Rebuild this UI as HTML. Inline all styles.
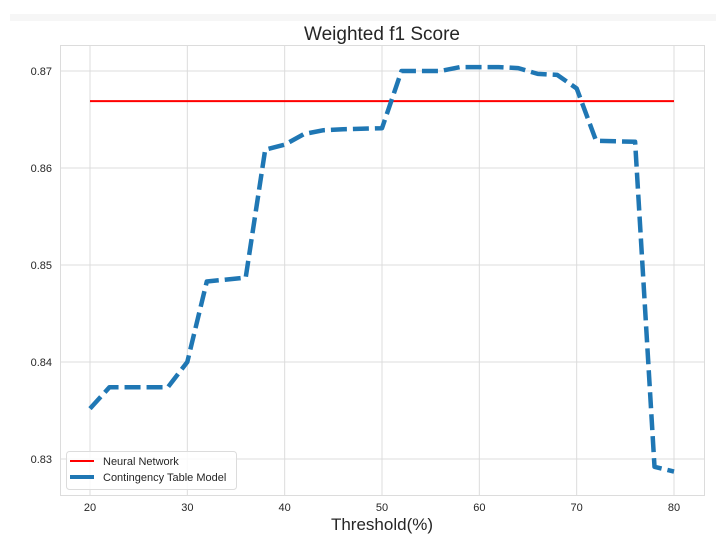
<!DOCTYPE html>
<html><head><meta charset="utf-8"><style>
body{margin:0;background:#fff;}
svg{display:block;font-family:"Liberation Sans",Arial,sans-serif;}
</style></head><body>
<svg id="chart" width="716" height="546">
<rect x="10" y="14" width="706" height="7" fill="#f6f6f6"/>
<text x="382" y="40" text-anchor="middle" font-size="19" fill="#262626">Weighted f1 Score</text>
<rect x="60.5" y="45.5" width="644" height="450" fill="#fff" stroke="#dcdcdc"/>
<g id="grid"></g><g id="series"></g>
<text x="382" y="530" text-anchor="middle" font-size="17" fill="#262626">Threshold(%)</text>
<g>
<rect x="66.5" y="451.5" width="170" height="38" rx="3" fill="#fff" fill-opacity="0.85" stroke="#dcdcdc"/>
<line x1="70" y1="461" x2="94" y2="461" stroke="#ff0000" stroke-width="2"/>
<text x="103" y="465" font-size="11" fill="#262626">Neural Network</text>
<line x1="70" y1="477" x2="94" y2="477" stroke="#1f77b4" stroke-width="4"/>
<text x="103" y="481" font-size="11" fill="#262626">Contingency Table Model</text>
</g>
</svg>
<script>
const xValues=[20,22,28,30,32,36,38,40,42,44,46,50,52,56,58,62,64,66,68,70,72,76,78,80];
const contingencyValues=[0.8352,0.8374,0.8374,0.8400,0.8483,0.8487,0.8619,0.8624,0.8635,0.8639,0.8640,0.8641,0.8700,0.8700,0.8704,0.8704,0.8703,0.8697,0.8696,0.8682,0.8628,0.8627,0.8292,0.8287];
const neuralNetworkValue=0.8669;
const xTicks=[20,30,40,50,60,70,80];
const yTicks=[0.83,0.84,0.85,0.86,0.87];
const yTickLabels=["0.83","0.84","0.85","0.86","0.87"];
const NS="http://www.w3.org/2000/svg";
function sx(v){return 90+(v-20)*(674-90)/60;}
function sy(v){return 71+(0.87-v)*9700;}
function mk(t,a,p){const e=document.createElementNS(NS,t);for(const k in a)e.setAttribute(k,a[k]);p.appendChild(e);return e;}
const grid=document.getElementById('grid');
xTicks.forEach(t=>{
 const l=mk('line',{x1:sx(t),x2:sx(t),y1:46,y2:495,stroke:'#dcdcdc','stroke-width':1},grid);
 
 
 const tx=mk('text',{x:sx(t),y:511,'text-anchor':'middle','font-size':11,fill:'#262626'},grid);
 tx.textContent=t;
 
 
});
yTicks.forEach((t,i)=>{
 const l=mk('line',{x1:61,x2:704,y1:sy(t),y2:sy(t),stroke:'#dcdcdc','stroke-width':1},grid);
 
 
 const tx=mk('text',{x:52,y:sy(t)+4,'text-anchor':'end','font-size':11,fill:'#262626'},grid);
 tx.textContent=yTickLabels[i];
 
 
});
const ser=document.getElementById('series');
const nn=mk('line',{x1:sx(xValues[0]),x2:sx(xValues[xValues.length-1]),y1:sy(neuralNetworkValue),y2:sy(neuralNetworkValue),stroke:'#ff0000','stroke-width':2},ser);


const d=xValues.map((x,i)=>(i?'L':'M')+sx(x).toFixed(1)+' '+sy(contingencyValues[i]).toFixed(1)).join(' ');
const ct=mk('path',{d:d,fill:'none',stroke:'#1f77b4','stroke-width':4.5,'stroke-dasharray':'16 6','stroke-linejoin':'round'},ser);


</script>
</body></html>
